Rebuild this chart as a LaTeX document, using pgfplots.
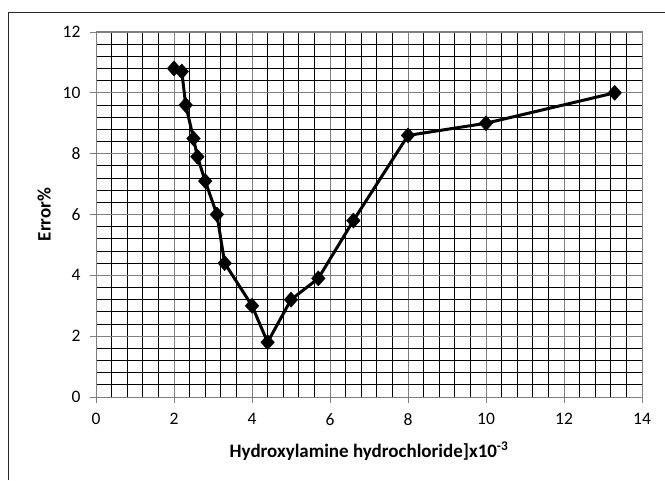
\documentclass[border=0pt]{standalone}
\usepackage{pgfplots}
\pgfplotsset{compat=1.18}
\usepackage{fontspec}
\setmainfont{Carlito}
\begin{document}
\begin{tikzpicture}[x=1pt,y=1pt]
\useasboundingbox (0,0) rectangle (665,480);
\draw[line width=1.5pt,black!85] (8.5,0) -- (8.5,467.5) -- (665,467.5);
\begin{axis}[
  at={(96pt,83pt)}, anchor=south west,
  scale only axis, width=546pt, height=365pt,
  xmin=0, xmax=14, ymin=0, ymax=12,
  xtick distance=2, ytick distance=2,
  minor x tick num=4, minor y tick num=4,
  grid=both,
  major grid style={line width=0.8pt, black!50},
  minor grid style={line width=0.8pt, black},
  axis line style={line width=1pt, black!50},
  tick style={line width=0.8pt, black!50},
  major tick length=6pt, minor tick length=0pt,
  tick align=outside,
  xtick pos=bottom, ytick pos=left,
  /pgf/number format/assume math mode=true,
  tick label style={font=\fontsize{17.5}{20}\selectfont},
  xticklabel style={yshift=-7pt},
  yticklabel style={xshift=-6pt},
  xlabel={\textbf{Hydroxylamine hydrochloride]x10\textsuperscript{-3}}},
  ylabel={\textbf{Error\%}},
  label style={font=\fontsize{19}{22}\selectfont},
  xlabel style={at={(axis description cs:0.5,-0.148)}, anchor=center},
  ylabel style={at={(axis description cs:-0.095,0.5)}, anchor=center},
]
\addplot[black, line width=3pt, mark=diamond*, mark size=7.5pt, mark options={solid, fill=black, line width=0.5pt, xscale=1.2}] coordinates {
(2.0,10.8) (2.2,10.7) (2.3,9.6) (2.5,8.5) (2.6,7.9) (2.8,7.1) (3.1,6.0) (3.3,4.4)
(4.0,3.0) (4.4,1.8) (5.0,3.2) (5.7,3.9) (6.6,5.8) (8.0,8.6) (10.0,9.0) (13.3,10.0)
};
\end{axis}
\end{tikzpicture}
\end{document}
